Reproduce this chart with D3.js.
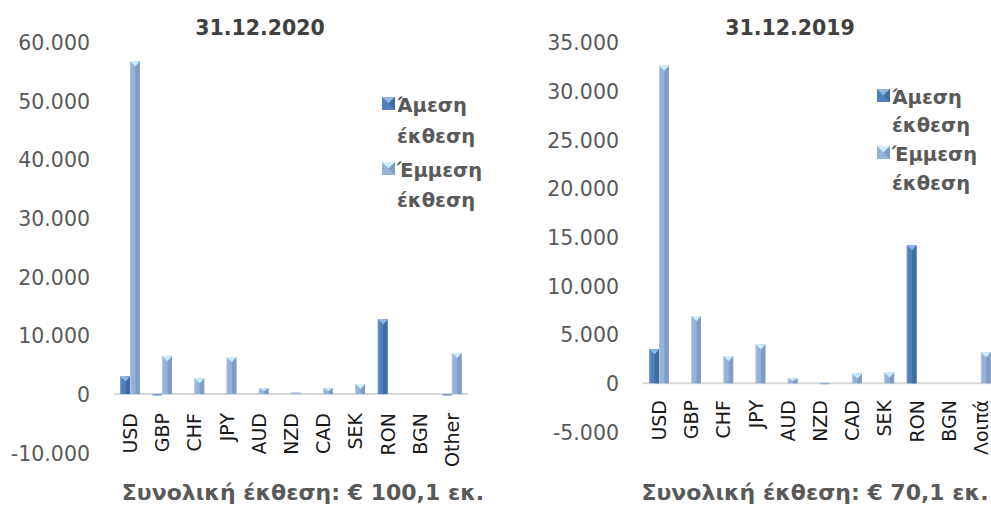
<!DOCTYPE html>
<html>
<head>
<meta charset="utf-8">
<script src="https://cdn.jsdelivr.net/npm/d3@7"></script>
<style>
  body { margin: 0; background: #fff; }
  text { font-family: "DejaVu Sans", sans-serif; }
</style>
</head>
<body>
<div id="chart"></div>
<script>
// data (EUR thousand)
var categories2020 = ["USD", "GBP", "CHF", "JPY", "AUD", "NZD", "CAD", "SEK", "RON", "BGN", "Other"];
var direct2020 = [3000, -200, 0, 0, 0, 0, 0, 0, 12700, 0, -200];
var indirect2020 = [56700, 6500, 2700, 6300, 1000, 250, 1000, 1700, 0, 0, 7000];
var ticks2020 = [-10000, 0, 10000, 20000, 30000, 40000, 50000, 60000];

var categories2019 = ["USD", "GBP", "CHF", "JPY", "AUD", "NZD", "CAD", "SEK", "RON", "BGN", "Λοιπά"];
var direct2019 = [3500, 0, 0, 0, 0, 0, 0, 0, 14200, 0, 0];
var indirect2019 = [32600, 6900, 2800, 4000, 500, 50, 1000, 1100, 0, 0, 3200];
var ticks2019 = [-5000, 0, 5000, 10000, 15000, 20000, 25000, 30000, 35000];

var seriesNames = ["Άμεση έκθεση", "Έμμεση έκθεση"];
var seriesKeys = ["direct", "indirect"];

var W = 991, H = 507;
var svg = d3.select("#chart").append("svg")
  .attr("width", W)
  .attr("height", H);

var fmt = d3.formatLocale({decimal: ",", thousands: ".", grouping: [3], currency: ["", ""], minus: "-"}).format(",.0f");

// fill colours for each series: base, shade (right half), tip highlight
var colors = {
  direct:   {base: "#4f81bd", shade: "#3e6ca3", tip: "#8fb6e3", edge: "#6f99cc"},
  indirect: {base: "#95b3d7", shade: "#7f9dc4", tip: "#cfeefa", edge: "#b0c8e6"}
};

function drawChart(opt) {
  var g = svg.append("g");

  var rows = opt.categories.map(function(c, i) {
    return {cat: c, direct: opt.direct[i], indirect: opt.indirect[i]};
  });

  var x = d3.scaleBand()
    .domain(opt.categories)
    .range(opt.xRange)
    .paddingInner(0.395)
    .paddingOuter(0.1975);

  var xs = d3.scaleBand()
    .domain(seriesKeys)
    .range([0, x.bandwidth()]);

  var y = d3.scaleLinear()
    .domain(opt.yDomain)
    .range(opt.yRange);

  // y axis (labels only)
  var yAxis = g.append("g")
    .attr("transform", "translate(" + (opt.xRange[0] - 24) + ",0)")
    .call(d3.axisLeft(y).tickValues(opt.ticks).tickFormat(fmt).tickSize(0).tickPadding(0));
  yAxis.select(".domain").remove();
  yAxis.selectAll("text")
    .attr("fill", "#595959")
    .style("font-family", "'DejaVu Sans', sans-serif")
    .style("font-size", "20.5px")
    .attr("dy", "0.36em");

  // zero line
  g.append("line")
    .attr("x1", opt.xRange[0])
    .attr("x2", opt.xRange[1])
    .attr("y1", y(0))
    .attr("y2", y(0))
    .attr("stroke", "#d9d9d9")
    .attr("stroke-width", 2);

  // bars
  var cats = g.selectAll(".cat")
    .data(rows)
    .enter().append("g")
    .attr("class", "cat")
    .attr("transform", function(d) { return "translate(" + x(d.cat) + ",0)"; });

  seriesKeys.forEach(function(key) {
    var col = colors[key];
    var bw = xs.bandwidth();
    var bars = cats.filter(function(d) { return d[key] !== 0; })
      .append("g")
      .attr("transform", "translate(" + xs(key) + ",0)");

    bars.append("rect")
      .attr("x", 0)
      .attr("width", bw)
      .attr("y", function(d) { return Math.min(y(d[key]), y(0)); })
      .attr("height", function(d) { return Math.max(1.5, Math.abs(y(d[key]) - y(0))); })
      .attr("fill", function(d) { return d[key] < 0 ? col.edge : col.base; });

    var tall = bars.filter(function(d) { return d[key] > 0 && y(0) - y(d[key]) > 3; });
    tall.append("rect")
      .attr("x", bw * 0.55)
      .attr("width", bw * 0.45)
      .attr("y", function(d) { return y(d[key]); })
      .attr("height", function(d) { return y(0) - y(d[key]); })
      .attr("fill", col.shade);
    tall.append("rect")
      .attr("x", 0)
      .attr("width", 1)
      .attr("y", function(d) { return y(d[key]); })
      .attr("height", function(d) { return y(0) - y(d[key]); })
      .attr("fill", col.edge);
    tall.append("path")
      .attr("d", function(d) {
        var t = y(d[key]);
        return "M0," + t + "L" + bw + "," + t + "L" + (bw * 0.55) + "," + (t + Math.min(5, (y(0) - t) / 2)) + "Z";
      })
      .attr("fill", col.tip);
  });

  // category labels (rotated)
  g.selectAll(".catlabel")
    .data(opt.categories)
    .enter().append("text")
    .attr("class", "catlabel")
    .attr("transform", function(d) {
      return "translate(" + (x(d) + x.bandwidth() / 2 + 7) + "," + opt.catTop + ") rotate(-90)";
    })
    .attr("text-anchor", "end")
    .attr("fill", "#1a1a1a")
    .style("font-size", "19px")
    .text(function(d) { return d; });

  // title
  g.append("text")
    .attr("x", opt.titleX)
    .attr("y", 35)
    .attr("text-anchor", "middle")
    .attr("fill", "#404040")
    .style("font-size", "20.5px")
    .style("font-weight", "bold")
    .text(opt.title);

  // total below
  g.append("text")
    .attr("x", opt.totalX)
    .attr("y", 500)
    .attr("text-anchor", "middle")
    .attr("fill", "#595959")
    .style("font-size", "22px")
    .style("font-weight", "bold")
    .text(opt.total);

  // legend
  var leg = g.append("g").attr("transform", "translate(" + opt.legX + ",0)");
  seriesKeys.forEach(function(key, i) {
    var col = colors[key];
    var words = seriesNames[i].split(" ");
    var base = opt.legY[i * 2];
    leg.append("rect")
      .attr("x", 0).attr("y", base - 15)
      .attr("width", 13).attr("height", 13)
      .attr("fill", col.base);
    leg.append("path")
      .attr("d", "M0," + (base - 15) + "L13," + (base - 15) + "L6.5," + (base - 8.5) + "Z")
      .attr("fill", col.tip);
    leg.append("path")
      .attr("d", "M13," + (base - 15) + "L13," + (base - 2) + "L6.5," + (base - 8.5) + "Z")
      .attr("fill", col.shade);
    words.forEach(function(w, j) {
      leg.append("text")
        .attr("x", 15)
        .attr("y", opt.legY[i * 2 + j])
        .attr("fill", "#595959")
        .style("font-size", "19.5px")
        .style("font-weight", "bold")
        .text(w);
    });
  });
}

drawChart({
  categories: categories2020, direct: direct2020, indirect: indirect2020, ticks: ticks2020,
  yDomain: [-10000, 60000], yRange: [452.7, 42],
  xRange: [114, 468], catTop: 413,
  title: "31.12.2020", titleX: 260,
  total: "Συνολική έκθεση: € 100,1 εκ.", totalX: 303,
  legX: 382, legY: [112, 143, 177, 207]
});

drawChart({
  categories: categories2019, direct: direct2019, indirect: indirect2019, ticks: ticks2019,
  yDomain: [-5000, 35000], yRange: [432, 42.4],
  xRange: [643, 997], catTop: 400,
  title: "31.12.2019", titleX: 790,
  total: "Συνολική έκθεση: € 70,1 εκ.", totalX: 815,
  legX: 877, legY: [104, 132, 161, 190]
});
</script>
</body>
</html>
